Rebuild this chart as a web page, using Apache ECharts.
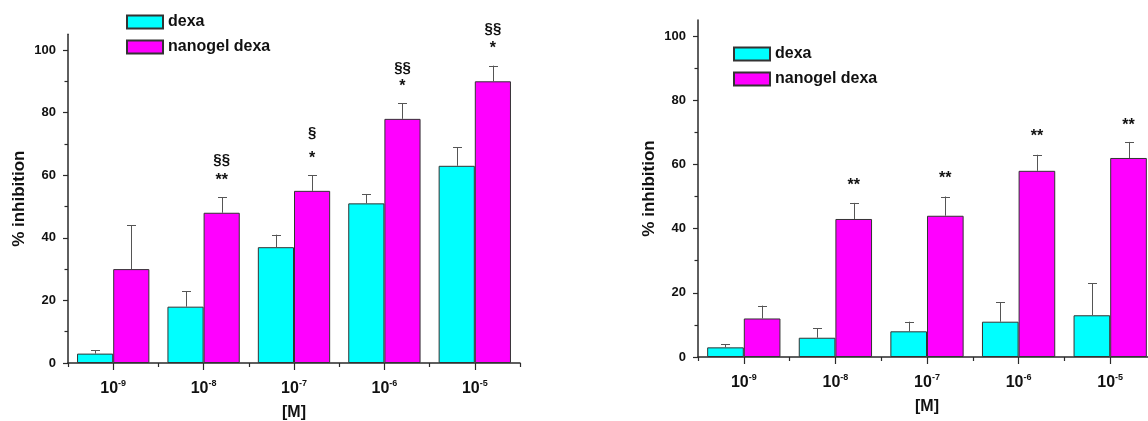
<!DOCTYPE html>
<html>
<head>
<meta charset="utf-8">
<script src="https://cdn.jsdelivr.net/npm/echarts@6/dist/echarts.min.js"></script>
<style>
html,body{margin:0;padding:0;background:#fff;}
#c{width:1148px;height:421px;}
</style>
</head>
<body>
<div id="c"></div>
<script>
// ---- data ----
const exponents = ['-9', '-8', '-7', '-6', '-5'];
const seriesNames = ['dexa', 'nanogel dexa'];
const yTicks = [0, 20, 40, 60, 80, 100];
const yMinorTicks = [10, 30, 50, 70, 90];

// left panel
const leftDexa = [3, 18, 37, 51, 63];
const leftDexaErr = [1, 5, 4, 3, 6];
const leftNano = [30, 48, 55, 78, 90];
const leftNanoErr = [14, 5, 5, 5, 5];
const leftSectText = ['', '§§', '§', '§§', '§§'];
const leftSectY = [0, 65, 73.5, 94.2, 106.7];
const leftStarText = ['', '**', '*', '*', '*'];
const leftStarY = [0, 59.4, 66.5, 89.5, 101.6];

// right panel
const rightDexa = [3, 6, 8, 11, 13];
const rightDexaErr = [1, 3, 3, 6, 10];
const rightNano = [12, 43, 44, 58, 62];
const rightNanoErr = [4, 5, 6, 5, 5];
const rightStarText = ['', '**', '**', '**', '**'];
const rightStarY = [0, 54.5, 56.7, 69.8, 73.2];

// ---- styling ----
const FONT = 'Liberation Sans';
const CYAN = '#00FFFF';
const MAGENTA = '#FF00FF';
const AXIS = '#2a2a2a';
const categories = exponents.map(e => '10^' + e);

function xAxes(gridIndex) {
  return [
    {
      type: 'category', gridIndex, data: categories, position: 'bottom',
      axisLine: { show: true, lineStyle: { color: AXIS, width: 1.5 } },
      axisTick: { show: false },
      axisLabel: {
        show: true, margin: 16,
        formatter: v => '{b|10}{s|' + v.split('^')[1] + '}',
        rich: {
          b: { fontFamily: FONT, fontWeight: 'bold', fontSize: 16, color: '#111' },
          s: { fontFamily: FONT, fontWeight: 'bold', fontSize: 9, color: '#111', padding: [0, 0, 10, 0] }
        }
      },
      name: '[M]', nameLocation: 'middle', nameGap: 42,
      nameTextStyle: { fontFamily: FONT, fontWeight: 'bold', fontSize: 16, color: '#111' }
    },
    {
      type: 'category', gridIndex, data: categories, position: 'bottom',
      axisLine: { show: false },
      axisTick: { show: true, alignWithLabel: true, length: 7, lineStyle: { color: AXIS, width: 1.2 } },
      axisLabel: { show: false }
    },
    {
      type: 'category', gridIndex, data: categories, position: 'bottom',
      axisLine: { show: false },
      axisTick: { show: true, alignWithLabel: false, length: 4, lineStyle: { color: AXIS, width: 1.2 } },
      axisLabel: { show: false }
    }
  ];
}

function yAxes(gridIndex) {
  return [
    {
      type: 'value', gridIndex, min: 0, max: 105, position: 'left',
      splitLine: { show: false },
      axisLine: { show: true, lineStyle: { color: AXIS, width: 1.5 } },
      axisTick: { show: false },
      axisLabel: { show: true, customValues: yTicks, margin: 12, fontFamily: FONT, fontWeight: 'bold', fontSize: 13, color: '#111' },
      name: '% inhibition', nameLocation: 'middle', nameGap: 40,
      nameTextStyle: { fontFamily: FONT, fontWeight: 'bold', fontSize: 17, color: '#111' }
    },
    {
      type: 'value', gridIndex, min: 0, max: 105, position: 'left',
      splitLine: { show: false },
      axisLine: { show: false },
      axisTick: { show: true, length: 5, customValues: yTicks, lineStyle: { color: AXIS, width: 1.2 } },
      axisLabel: { show: false }
    },
    {
      type: 'value', gridIndex, min: 0, max: 105, position: 'left',
      splitLine: { show: false },
      axisLine: { show: false },
      axisTick: { show: true, length: 3.5, customValues: yMinorTicks, lineStyle: { color: AXIS, width: 1.2 } },
      axisLabel: { show: false }
    }
  ];
}

function barSeries(name, values, color, xi, yi) {
  return {
    type: 'bar', name, data: values, xAxisIndex: xi, yAxisIndex: yi,
    barGap: '0%', barCategoryGap: '20%',
    itemStyle: { color, borderColor: '#333', borderWidth: 1 },
    z: 2
  };
}

function errSeries(values, errs, frac, xi, yi) {
  return {
    type: 'custom', xAxisIndex: xi, yAxisIndex: yi, z: 3, silent: true,
    data: values.map((v, i) => [i, v, v + errs[i]]),
    renderItem: function (params, api) {
      const i = api.value(0), v = api.value(1), top = api.value(2);
      const band = api.size([1, 0])[0];
      const p0 = api.coord([i, v]);
      const p1 = api.coord([i, top]);
      const x = Math.round(p0[0] + band * frac) + 0.5;
      const st = { stroke: '#555', lineWidth: 1 };
      return {
        type: 'group', children: [
          { type: 'line', shape: { x1: x, y1: p0[1], x2: x, y2: p1[1] }, style: st },
          { type: 'line', shape: { x1: x - 4.5, y1: Math.round(p1[1]) + 0.5, x2: x + 4.5, y2: Math.round(p1[1]) + 0.5 }, style: st }
        ]
      };
    }
  };
}

function annotSeries(texts, ys, frac, size, dy, xi, yi) {
  return {
    type: 'custom', xAxisIndex: xi, yAxisIndex: yi, z: 4, silent: true, clip: false,
    data: ys.map((y, i) => [i, y]),
    renderItem: function (params, api) {
      const i = api.value(0), y = api.value(1);
      const t = texts[params.dataIndex];
      if (!t) return null;
      const band = api.size([1, 0])[0];
      const p = api.coord([i, y]);
      return {
        type: 'text',
        style: {
          x: p[0] + band * frac, y: p[1] + dy, text: t,
          align: 'center', verticalAlign: 'middle',
          font: 'bold ' + size + 'px "' + FONT + '"', fill: '#111'
        }
      };
    }
  };
}

function legend(left, top) {
  return {
    data: seriesNames, orient: 'vertical', left, top, padding: 0,
    itemWidth: 36, itemHeight: 13, itemGap: 9, icon: 'rect',
    selectedMode: false,
    textStyle: { fontFamily: FONT, fontWeight: 'bold', fontSize: 16, color: '#111' }
  };
}

const option = {
  animation: false,
  backgroundColor: '#fff',
  legend: [legend(126, 14), legend(733, 46)],
  grid: [
    { left: 68, top: 363 - 105 * 3.13, width: 452, height: 105 * 3.13, outerBoundsMode: 'none', containLabel: false },
    { left: 698, top: 357 - 105 * 3.21, width: 458, height: 105 * 3.21, outerBoundsMode: 'none', containLabel: false }
  ],
  xAxis: [...xAxes(0), ...xAxes(1)],
  yAxis: [...yAxes(0), ...yAxes(1)],
  series: [
    barSeries(seriesNames[0], leftDexa, CYAN, 0, 0),
    barSeries(seriesNames[1], leftNano, MAGENTA, 0, 0),
    errSeries(leftDexa, leftDexaErr, -0.2, 0, 0),
    errSeries(leftNano, leftNanoErr, 0.2, 0, 0),
    annotSeries(leftSectText, leftSectY, 0.2, 15, 0, 0, 0),
    annotSeries(leftStarText, leftStarY, 0.2, 16, 4, 0, 0),
    barSeries(seriesNames[0], rightDexa, CYAN, 3, 3),
    barSeries(seriesNames[1], rightNano, MAGENTA, 3, 3),
    errSeries(rightDexa, rightDexaErr, -0.2, 3, 3),
    errSeries(rightNano, rightNanoErr, 0.2, 3, 3),
    annotSeries(rightStarText, rightStarY, 0.2, 16, 4, 3, 3)
  ]
};

const chart = echarts.init(document.getElementById('c'), null, { renderer: 'canvas' });
chart.setOption(option);
</script>
</body>
</html>
